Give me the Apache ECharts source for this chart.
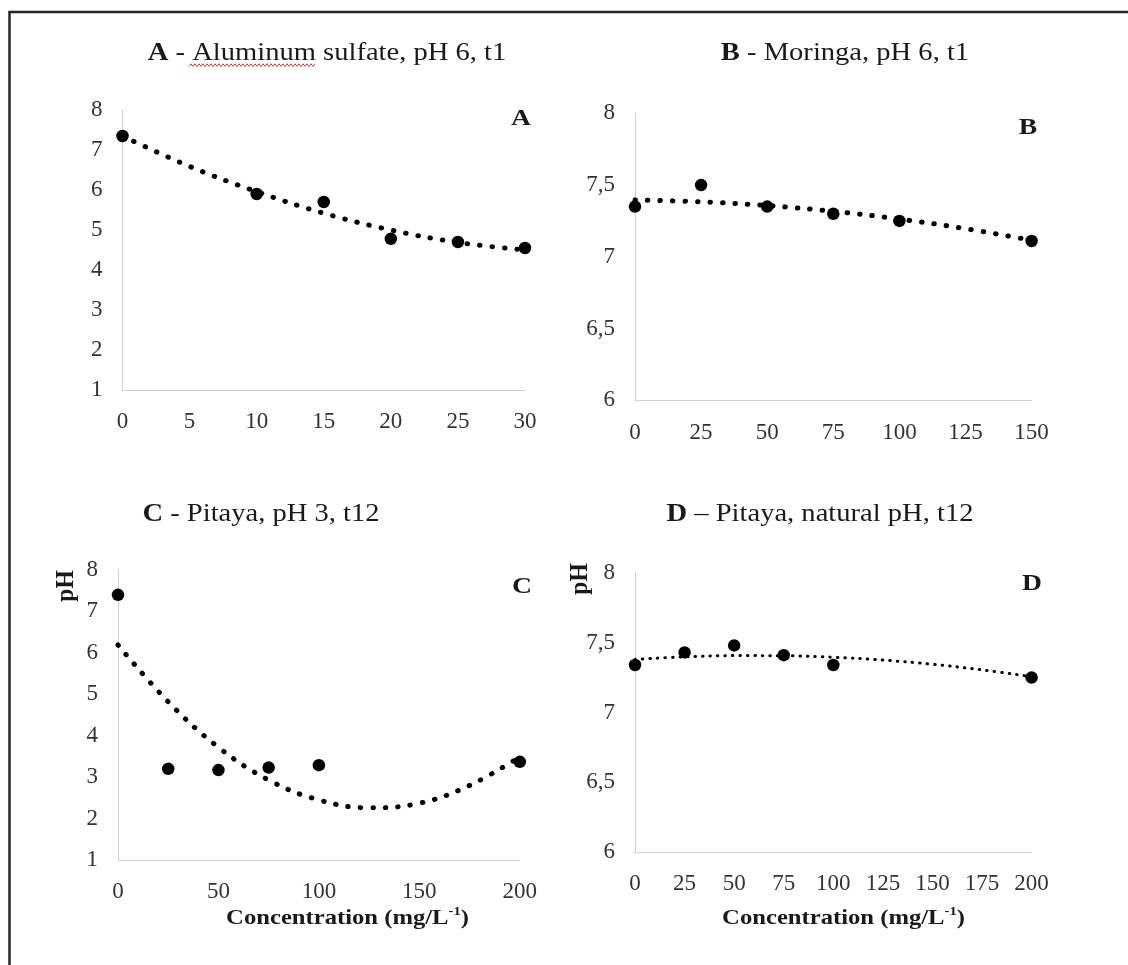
<!DOCTYPE html>
<html><head><meta charset="utf-8">
<script src="https://cdn.jsdelivr.net/npm/echarts@6/dist/echarts.min.js"></script>
<style>html,body{margin:0;padding:0;background:#fff}#c{width:1128px;height:965px}</style>
</head><body><div id="c"></div>
<script>
// ---- Panel A : Aluminum sulfate ----
const concA = [0, 10, 15, 20, 25, 30];
const pHA = [7.35, 5.9, 5.7, 4.78, 4.7, 4.55];
const trendConcA = [0, 5, 10, 15, 20, 25, 30];
const trendA = [7.35, 6.59, 5.96, 5.42, 5.0, 4.69, 4.5];
// ---- Panel B : Moringa ----
const concB = [0, 25, 50, 75, 100, 150];
const pHB = [7.35, 7.5, 7.35, 7.3, 7.25, 7.11];
const trendConcB = [0, 25, 50, 75, 100, 125, 150];
const trendB = [7.396, 7.383, 7.357, 7.317, 7.263, 7.196, 7.115];
// ---- Panel C : Pitaya pH 3 ----
const concC = [0, 25, 50, 75, 100, 200];
const pHC = [7.4, 3.2, 3.17, 3.23, 3.29, 3.37];
const trendConcC = [0, 25, 50, 75, 100, 125, 150, 175, 200];
const trendC = [6.19, 4.82, 3.72, 2.93, 2.45, 2.26, 2.37, 2.8, 3.49];
// ---- Panel D : Pitaya natural pH ----
const concD = [0, 25, 50, 75, 100, 200];
const pHD = [7.34, 7.43, 7.48, 7.41, 7.34, 7.25];
const trendConcD = [0, 25, 50, 75, 100, 125, 150, 175, 200];
const trendD = [7.38, 7.398, 7.407, 7.406, 7.395, 7.375, 7.345, 7.305, 7.256];

// ---- texts ----
const panelLetters = ['A', 'B', 'C', 'D'];
const panelTitles = [' - Aluminum sulfate, pH 6, t1', ' - Moringa, pH 6, t1', ' - Pitaya, pH 3, t12', ' \u2013 Pitaya, natural pH, t12'];
const xTitleMain = 'Concentration (mg/L';
const xTitleSup = '-1';
const yTitle = 'pH';
// axis ranges [min, max, interval]
const xRanges = [[0, 30, 5], [0, 150, 25], [0, 200, 50], [0, 200, 25]];
const yRanges = [[1, 8, 1], [6, 8, 0.5], [1, 8, 1], [6, 8, 0.5]];

const FONT = "'Liberation Serif', 'Times New Roman', serif";
const pairs = (xs, ys) => xs.map((x, i) => [x, ys[i]]);
const points = [pairs(concA, pHA), pairs(concB, pHB), pairs(concC, pHC), pairs(concD, pHD)];
const trends = [pairs(trendConcA, trendA), pairs(trendConcB, trendB), pairs(trendConcC, trendC), pairs(trendConcD, trendD)];

const grids = [
  { left: 122.5, top: 110, width: 402.5, height: 280 },
  { left: 635, top: 113.3, width: 396.6, height: 287 },
  { left: 118, top: 570, width: 401.8, height: 290 },
  { left: 635, top: 572.7, width: 396.6, height: 279.6 }
];
const xMargins = [20, 21.5, 20.5, 20.5];
const axisLineStyle = { show: true, onZero: false, lineStyle: { color: '#d0d0d0', width: 1 } };
const labelStyle = { fontFamily: FONT, fontSize: 23, color: '#333' };
const commaFmt = v => String(v).replace('.', ',');

const xAxes = xRanges.map((r, i) => ({
  type: 'value', gridIndex: i, min: r[0], max: r[1], interval: r[2],
  axisLine: axisLineStyle, axisTick: { show: false }, splitLine: { show: false },
  axisLabel: Object.assign({ margin: xMargins[i] }, labelStyle)
}));
const yAxes = yRanges.map((r, i) => ({
  type: 'value', gridIndex: i, min: r[0], max: r[1], interval: r[2],
  axisLine: axisLineStyle, axisTick: { show: false }, splitLine: { show: false },
  axisLabel: Object.assign({ margin: 20, formatter: commaFmt }, labelStyle)
}));

const trendWidths = [5, 5, 5, 3];
const trendDash = [[0.5, 12], [0.5, 12], [0.5, 12], [0.5, 7]];
const series = [];
for (let i = 0; i < 4; i++) {
  series.push({
    type: 'line', xAxisIndex: i, yAxisIndex: i, data: trends[i], smooth: 0.4,
    symbol: 'none', silent: true, z: 2,
    lineStyle: { color: '#000', width: trendWidths[i], type: trendDash[i], cap: 'round', opacity: 1 }
  });
  series.push({
    type: 'scatter', xAxisIndex: i, yAxisIndex: i, data: points[i],
    symbol: 'circle', symbolSize: 12.5, z: 3, itemStyle: { color: '#000', opacity: 1 }
  });
}

// text positions (centers)
const titlePos = [[327, 53], [845, 53], [261, 514], [820, 514]];
const letterPos = [[521, 119], [1028, 128], [522, 587], [1032, 584]];
const yTitlePos = [[66.5, 586], [580, 579]];
const xTitlePos = [[347.5, 918], [843.5, 918.5]];

const graphics = [];
// frame (top and left edges)
graphics.push({ type: 'polyline', silent: true, shape: { points: [[9.5, 965], [9.5, 12], [1128, 12]] },
  style: { stroke: '#262626', lineWidth: 2.5, fill: null } });
for (let i = 0; i < 4; i++) {
  graphics.push({ type: 'text', x: titlePos[i][0], y: titlePos[i][1], scaleX: 1.12, silent: true,
    style: { text: '{b|' + panelLetters[i] + '}{r|' + panelTitles[i] + '}', align: 'center', verticalAlign: 'middle',
      rich: { b: { fontFamily: FONT, fontSize: 25.5, fontWeight: 'bold', fill: '#1a1a1a' },
              r: { fontFamily: FONT, fontSize: 25.5, fill: '#1a1a1a' } } } });
  graphics.push({ type: 'text', x: letterPos[i][0], y: letterPos[i][1], scaleX: 1.15, silent: true,
    style: { text: panelLetters[i], align: 'center', verticalAlign: 'middle',
      font: 'bold 24px ' + FONT, fill: '#1a1a1a' } });
}
for (let j = 0; j < 2; j++) {
  graphics.push({ type: 'text', x: yTitlePos[j][0], y: yTitlePos[j][1], rotation: Math.PI / 2, scaleY: 1.1, silent: true,
    style: { text: yTitle, align: 'center', verticalAlign: 'middle', font: 'bold 23.5px ' + FONT, fill: '#1a1a1a' } });
  graphics.push({ type: 'text', x: xTitlePos[j][0], y: xTitlePos[j][1], scaleX: 1.12, silent: true,
    style: { text: '{b|' + xTitleMain + '}{s|' + xTitleSup + '}{b|)}', align: 'center', verticalAlign: 'middle',
      rich: { b: { fontFamily: FONT, fontSize: 22, fontWeight: 'bold', fill: '#1a1a1a', lineHeight: 26 },
              s: { fontFamily: FONT, fontSize: 13, fontWeight: 'bold', fill: '#1a1a1a', verticalAlign: 'top', lineHeight: 26 } } } });
}
// spell-check squiggle under "Aluminum"
const sq = [];
for (let x = 189, k = 0; x <= 316.5; x += 2, k++) sq.push([x, k % 2 ? 63.8 : 66.4]);
graphics.push({ type: 'polyline', silent: true, shape: { points: sq }, style: { stroke: '#e0201a', lineWidth: 0.9, fill: null } });

const chart = echarts.init(document.getElementById('c'), null, { renderer: 'canvas' });
chart.setOption({
  animation: false,
  backgroundColor: '#fff',
  grid: grids,
  xAxis: xAxes,
  yAxis: yAxes,
  series: series,
  graphic: graphics
});
</script></body></html>
